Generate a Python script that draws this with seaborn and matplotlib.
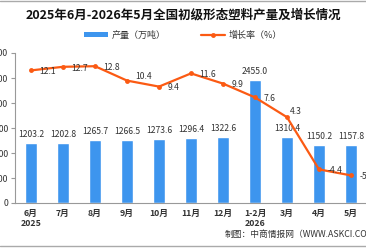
import numpy as np
import pandas as pd
import matplotlib
matplotlib.use('Agg')
import matplotlib.pyplot as plt
import seaborn as sns
from matplotlib.lines import Line2D
from matplotlib.patches import Patch

# data
months = ['6月\n2025', '7月', '8月', '9月', '10月', '11月', '12月',
          '1-2月\n2026', '3月', '4月', '5月']
output = [1203.2, 1202.8, 1265.7, 1266.5, 1273.6, 1296.4, 1322.6,
          2455.0, 1310.4, 1150.2, 1157.8]
growth = [12.1, 12.7, 12.8, 10.4, 9.4, 11.6, 9.9, 7.6, 4.3, -4.4, -5.4]

df = pd.DataFrame({'month': months, 'output': output, 'growth': growth})

sns.set_style('white')
plt.rcParams['font.family'] = ['Noto Sans CJK SC', 'DejaVu Sans']

bar_color = '#3d95ee'
line_color = '#fb5a13'
txt = '#333333'

fig = plt.figure(figsize=(3.66, 2.48), dpi=100)
ax = fig.add_axes([15 / 366, 1 - 203 / 248, 352 / 366, 150 / 248])

sns.barplot(data=df, x='month', y='output', color=bar_color, width=0.37,
            saturation=1, ax=ax)
ax.set_ylim(0, 3000)
ax.set_yticks(np.arange(0, 3001, 500))
ax.set_xlabel('')
ax.set_ylabel('')
for s in ['top', 'right']:
    ax.spines[s].set_visible(False)
for s in ['left', 'bottom']:
    ax.spines[s].set_color('#999999')
    ax.spines[s].set_linewidth(0.8)
ax.tick_params(axis='y', labelsize=6.3, colors=txt, length=3, color='#999999', pad=2)
ax.tick_params(axis='x', which='major', labelsize=6.3, colors=txt, length=0, pad=4)
ax.set_xticks(np.arange(-0.5, len(months), 1), minor=True)
ax.tick_params(axis='x', which='minor', length=3, color='#999999')
for lbl in ax.get_xticklabels():
    lbl.set_linespacing(1.15)
    lbl.set_fontweight('bold')
ax.set_xlim(-0.5, len(months) - 0.5)

for i, v in enumerate(output):
    ax.annotate(f'{v:.1f}', (i, v), xytext=(0, 3), textcoords='offset points',
                ha='center', va='bottom', fontsize=6.2, color=txt)

ax2 = ax.twinx()
sns.lineplot(data=df, x='month', y='growth', color=line_color, linewidth=1.6,
             marker='o', markersize=3.5, markeredgewidth=0, ax=ax2, sort=False)
ax2.set_ylim(-10, 15)
ax2.set_yticks([])
ax2.set_ylabel('')
ax2.set_xlabel('')
for s in ax2.spines.values():
    s.set_visible(False)
ax2.set_xlim(-0.5, len(months) - 0.5)

up = {3: (6, 3), 8: (2, 4)}
for i, v in enumerate(growth):
    dx, dy = up.get(i, (6, -1))
    ax2.annotate(f'{v:.1f}', (i, v), xytext=(dx, dy), textcoords='offset points',
                 ha='left', va='center', fontsize=6.2, color=txt)

fig.text(0.5, 1 - 15 / 248, '2025年6月-2026年5月全国初级形态塑料产量及增长情况',
         ha='center', va='center', fontsize=9, fontweight='bold', color='#111111')

handles = [Patch(facecolor=bar_color, edgecolor='none', label='产量（万吨）'),
           Line2D([], [], color=line_color, linewidth=1.6, marker='o',
                  markersize=3.5, markeredgewidth=0, label='增长率（%）')]
fig.legend(handles=handles, loc='center', bbox_to_anchor=(0.5, 1 - 35 / 248),
           ncol=2, frameon=False, fontsize=6.5, handlelength=2.6, handleheight=0.5,
           columnspacing=4, handletextpad=0.4, labelcolor=txt)

fig.text(225 / 366, 1 - 234 / 248, '制图：中商情报网（WWW.ASKCI.COM）',
         ha='left', va='center', fontsize=6.3, color=txt)

fig.add_artist(Line2D([0, 1], [1 - 0.5 / 248, 1 - 0.5 / 248], color='#aaaaaa', linewidth=1))
fig.add_artist(Line2D([0, 1], [1 - 246 / 248, 1 - 246 / 248], color='#aaaaaa', linewidth=1))

fig.savefig('out.png', dpi=100)
